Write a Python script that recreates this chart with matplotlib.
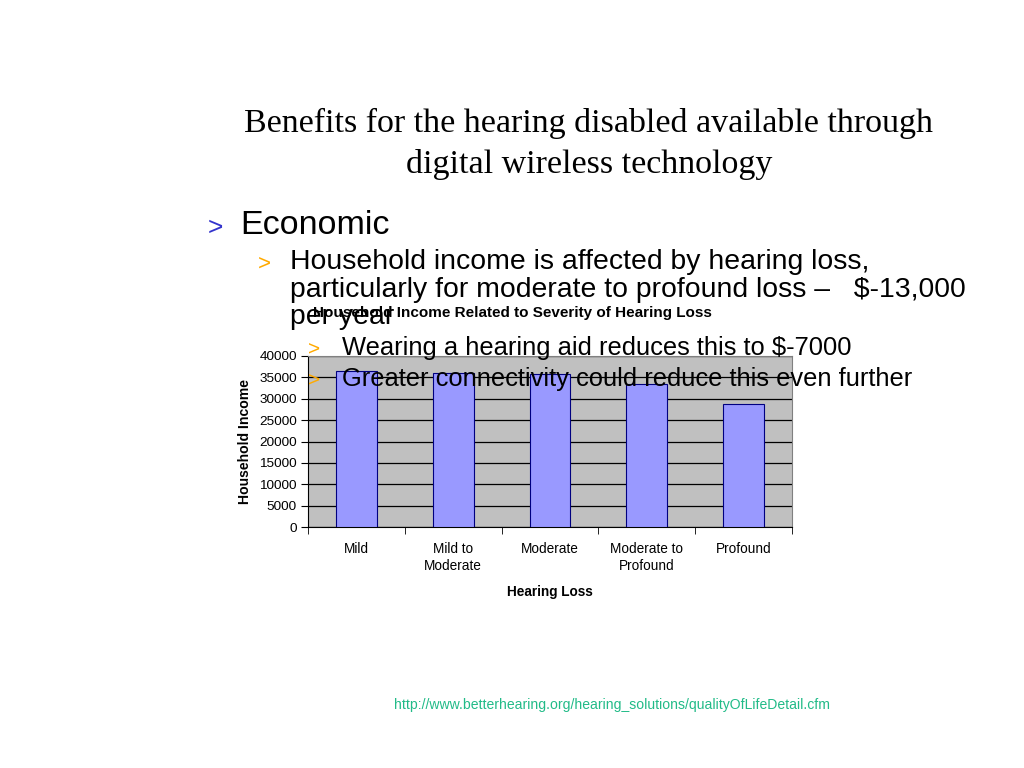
import numpy as np
import matplotlib.pyplot as plt

# chart data
categories = ["Mild", "Mild to\nModerate", "Moderate", "Moderate to\nProfound", "Profound"]
income = [36500, 36100, 35800, 33400, 28750]
y_ticks = [0, 5000, 10000, 15000, 20000, 25000, 30000, 35000, 40000]

plt.rcParams['font.family'] = ['Liberation Sans', 'DejaVu Sans']

fig = plt.figure(figsize=(10.24, 7.68), dpi=100)
fig.patch.set_facecolor('white')

# the bar chart
ax = fig.add_axes([308 / 1024, 1 - 527 / 768, 484 / 1024, 171 / 768])
ax.set_facecolor('#c0c0c0')
x = np.arange(len(categories))
ax.bar(x, income, width=0.42, color='#9999ff', edgecolor='#000080', linewidth=0.8, zorder=3)
ax.set_xlim(-0.5, len(categories) - 0.5)
ax.set_ylim(0, 40000)
ax.set_yticks(y_ticks)
ax.set_yticklabels([str(v) for v in y_ticks], fontsize=9.7)
ax.yaxis.grid(True, color='black', linewidth=0.9, zorder=1)
ax.set_axisbelow(True)

# category labels at centres, tick marks at boundaries
ax.set_xticks(x)
ax.set_xticklabels(categories, fontsize=9.8, linespacing=1.35, va='top')
ax.tick_params(axis='x', which='major', length=0, pad=10.5)
ax.set_xticks(np.arange(-0.5, len(categories)), minor=True)
ax.tick_params(axis='x', which='minor', length=5, direction='out', color='black')
ax.tick_params(axis='y', length=5, direction='out', pad=3)

for side in ['top', 'right']:
    ax.spines[side].set_color('#808080')
for side in ['left', 'bottom']:
    ax.spines[side].set_color('black')

ax.set_ylabel("Household Income", fontsize=10.1, fontweight='bold', labelpad=5)
ax.set_xlabel("Hearing Loss", fontsize=9.8, fontweight='bold', labelpad=8)
fig.text(512 / 1024, 1 - 313 / 768, "Household Income Related to Severity of Hearing Loss",
         fontsize=11, fontweight='bold', ha='center', va='center')

# slide title
fig.text(589 / 1024, 1 - 123 / 768, "Benefits for the hearing disabled available through",
         family='Liberation Serif', fontsize=24.5, ha='center', va='center')
fig.text(589 / 1024, 1 - 164 / 768, "digital wireless technology",
         family='Liberation Serif', fontsize=24.5, ha='center', va='center')

# bullet points drawn over the chart
blue = '#3333cc'
orange = '#ffaa00'
fig.text(208 / 1024, 1 - 228 / 768, ">", color=blue, fontsize=19, va='center', zorder=5)
fig.text(240 / 1024, 1 - 225 / 768, "Economic", fontsize=24.5, va='center', zorder=5)

fig.text(258 / 1024, 1 - 264 / 768, ">", color=orange, fontsize=16, va='center', zorder=5)
fig.text(290 / 1024, 1 - 262 / 768, "Household income is affected by hearing loss,",
         fontsize=20.4, va='center', zorder=5)
fig.text(290 / 1024, 1 - 290 / 768, "particularly for moderate to profound loss \u2013   $-13,000",
         fontsize=20.4, va='center', zorder=5)
fig.text(290 / 1024, 1 - 317 / 768, "per year", fontsize=20.4, va='center', zorder=5)

fig.text(308 / 1024, 1 - 350 / 768, ">", color=orange, fontsize=15, va='center', zorder=5)
fig.text(342 / 1024, 1 - 348 / 768, "Wearing a hearing aid reduces this to $-7000",
         fontsize=18.4, va='center', zorder=5)
fig.text(308 / 1024, 1 - 381 / 768, ">", color=orange, fontsize=15, va='center', zorder=5)
fig.text(342 / 1024, 1 - 379 / 768, "Greater connectivity could reduce this even further",
         fontsize=18.4, va='center', zorder=5)

# source link
fig.text(612 / 1024, 1 - 705 / 768,
         "http://www.betterhearing.org/hearing_solutions/qualityOfLifeDetail.cfm",
         color='#22bb88', fontsize=10.1, ha='center', va='center')

fig.savefig('out.png', dpi=100, facecolor='white')
